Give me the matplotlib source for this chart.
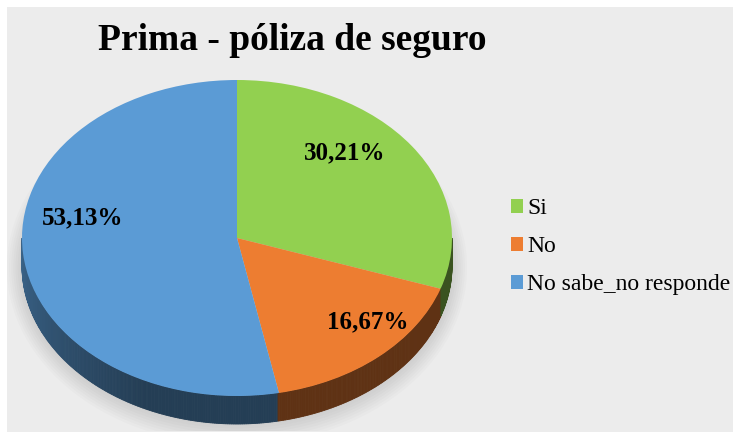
import numpy as np
import matplotlib
matplotlib.use('Agg')
import matplotlib.pyplot as plt
from matplotlib.patches import Rectangle, Ellipse, Polygon
from matplotlib.colors import to_rgb

# data
title = 'Prima - póliza de seguro'
labels = ['Si', 'No', 'No sabe_no responde']
values = [30.21, 16.67, 53.13]
pct_text = ['30,21%', '16,67%', '53,13%']
colors = ['#92D050', '#ED7D31', '#5B9BD5']
# where the percentage labels sit (pie units)
pct_pos = [(0.50, 0.54), (0.61, -0.53), (-0.72, 0.13)]

W, H = 733, 432
fig = plt.figure(figsize=(W / 100, H / 100), dpi=100)
fig.patch.set_facecolor('white')
fig.patches.append(Rectangle((7 / W, 0), 1, 1 - 7 / H, transform=fig.transFigure,
                             facecolor='#ECECEC', edgecolor='none', zorder=-10))

# pie geometry in pixels
cx, cy, a, b = 237, 238, 215, 158
depth = 28 / b
xlo, xhi = -1.1, 1.1
ylo, yhi = -1.22, 1.02
left = (cx + xlo * a) / W
width = (xhi - xlo) * a / W
bottom = (H - (cy - ylo * b)) / H
height = (yhi - ylo) * b / H
ax = fig.add_axes([left, bottom, width, height])

# soft shadow under the pie
for i in range(8):
    ax.add_patch(Ellipse((0.0, -depth - 0.01), 2.0 + 0.02 * i, 2.0 + 0.035 * i,
                         facecolor='#808080', edgecolor='none', alpha=0.035, zorder=0))

# side walls of the 3d pie
cum = np.cumsum([0] + values) / sum(values)
thetas = np.linspace(180, 360, 361)
for t0, t1 in zip(thetas[:-1], thetas[1:]):
    tm = 0.5 * (t0 + t1)
    frac = ((90 - tm) % 360) / 360
    k = np.searchsorted(cum, frac, side='right') - 1
    k = min(max(k, 0), len(values) - 1)
    shade = 0.40 + 0.25 * max(0.0, (245 - tm) / 65)
    col = tuple(c * shade for c in to_rgb(colors[k]))
    r0, r1 = np.radians(t0), np.radians(t1)
    pts = [(np.cos(r0), np.sin(r0)), (np.cos(r1), np.sin(r1)),
           (np.cos(r1), np.sin(r1) - depth), (np.cos(r0), np.sin(r0) - depth)]
    ax.add_patch(Polygon(pts, closed=True, facecolor=col, edgecolor=col,
                         linewidth=0.6, zorder=1))

wedges, _ = ax.pie(values, colors=colors, startangle=90, counterclock=False,
                   radius=1.0, frame=True, wedgeprops=dict(linewidth=0, zorder=2))
ax.set_xlim(xlo, xhi)
ax.set_ylim(ylo, yhi)
ax.set_aspect('auto')
ax.axis('off')

for txt, (px, py) in zip(pct_text, pct_pos):
    ax.text(px, py, txt, ha='center', va='center', fontsize=18, fontweight='bold',
            family='Liberation Serif', color='black', zorder=5)

fig.text(292 / W, 1 - 41 / H, title, ha='center', va='center', fontsize=27,
         fontweight='bold', family='Liberation Serif')

handles = [Rectangle((0, 0), 1, 1, facecolor=c, edgecolor='none') for c in colors]
leg = fig.legend(handles, labels, loc='upper left', bbox_to_anchor=(502 / W, 1 - 189 / H),
                 frameon=False, prop={'family': 'Liberation Serif', 'size': 17},
                 handlelength=0.5, handleheight=0.5, handletextpad=0.17,
                 labelspacing=0.72, borderaxespad=0)

fig.savefig('out.png', dpi=100)
